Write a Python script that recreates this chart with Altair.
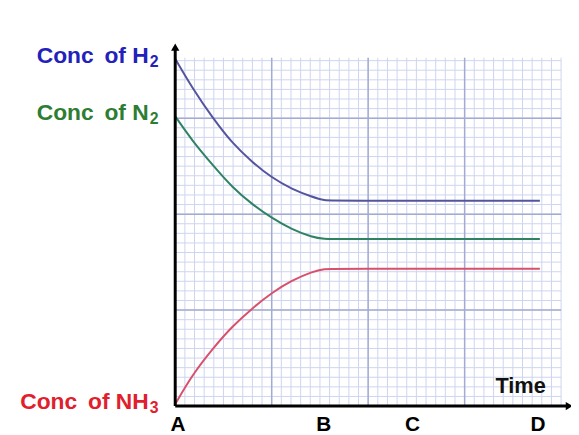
import altair as alt
import pandas as pd

# ---- data (x in grid cells of time, y in grid cells of concentration)
time_pts = [0, 1.8, 3.9, 5.9, 8.0, 10.0, 12.1, 14.2, 15.5, 16.5, 37.8]
conc_h2 = [36.2, 33.1, 30.0, 27.4, 25.4, 23.8, 22.6, 21.8, 21.4, 21.4, 21.4]
conc_n2 = [30.2, 27.6, 25.1, 22.8, 21.0, 19.6, 18.4, 17.6, 17.4, 17.4, 17.4]
conc_nh3 = [0.2, 3.3, 6.0, 8.3, 10.2, 11.8, 13.1, 14.0, 14.3, 14.3, 14.3]

series_names = ["H2", "N2", "NH3"]
label_main = ["Conc\u2009 of H", "Conc\u2009 of N", "Conc\u2009 of NH"]
label_sub = ["2", "2", "3"]
label_base_y = [35.75, 29.8, -0.35]
line_colors = ["#55559f", "#2f8363", "#d9506b"]
text_colors = ["#2222bb", "#2e7d32", "#e0202c"]

tick_labels = ["A", "B", "C", "D"]
tick_pos = [0.3, 15.4, 24.6, 37.6]

grid_x = list(range(0, 41))
grid_y = list(range(0, 37))
major = [10, 20, 30]

X_MAX, Y_MAX = 40, 36.3
LABEL_X = -2.75

xs = alt.Scale(domain=[0, X_MAX], nice=False, zero=False)
ys = alt.Scale(domain=[0, Y_MAX], nice=False, zero=False)

rows = []
for name, vals in zip(series_names, [conc_h2, conc_n2, conc_nh3]):
    for t, c in zip(time_pts, vals):
        rows.append({"series": name, "t": t, "c": c})
lines_df = pd.DataFrame(rows)

vgrid = pd.DataFrame({"x": grid_x, "y0": 0, "y1": Y_MAX})
hgrid = pd.DataFrame({"y": grid_y, "x0": 0, "x1": X_MAX})
vmaj = pd.DataFrame({"x": major, "y0": 0, "y1": Y_MAX})
hmaj = pd.DataFrame({"y": major, "x0": 0, "x1": X_MAX})

vg = alt.Chart(vgrid).mark_rule(color="#cdd4ef", strokeWidth=1).encode(
    x=alt.X("x:Q", scale=xs, axis=None), y=alt.Y("y0:Q", scale=ys, axis=None), y2="y1:Q")
hg = alt.Chart(hgrid).mark_rule(color="#cdd4ef", strokeWidth=1).encode(
    y=alt.Y("y:Q", scale=ys, axis=None), x=alt.X("x0:Q", scale=xs, axis=None), x2="x1:Q")
vm = alt.Chart(vmaj).mark_rule(color="#a3abd3", strokeWidth=1.5).encode(
    x=alt.X("x:Q", scale=xs, axis=None), y=alt.Y("y0:Q", scale=ys, axis=None), y2="y1:Q")
hm = alt.Chart(hmaj).mark_rule(color="#a3abd3", strokeWidth=1.5).encode(
    y=alt.Y("y:Q", scale=ys, axis=None), x=alt.X("x0:Q", scale=xs, axis=None), x2="x1:Q")

lines = alt.Chart(lines_df).mark_line(strokeWidth=2, interpolate="basis").encode(
    x=alt.X("t:Q", scale=xs, axis=None),
    y=alt.Y("c:Q", scale=ys, axis=None),
    color=alt.Color("series:N", scale=alt.Scale(domain=series_names, range=line_colors), legend=None),
)

# axes with arrows
axes_df = pd.DataFrame({"x0": [0, 0], "x1": [0, 40.7], "y0": [0, 0], "y1": [37.3, 0]})
axes = alt.Chart(axes_df).mark_rule(color="black", strokeWidth=3).encode(
    x=alt.X("x0:Q", scale=xs, axis=None), x2="x1:Q",
    y=alt.Y("y0:Q", scale=ys, axis=None), y2="y1:Q")
arrow_df = pd.DataFrame({"x": [0, 40.85], "y": [37.4, 0], "shape": ["triangle-up", "triangle-right"]})
arrows = alt.Chart(arrow_df).mark_point(filled=True, color="black", size=70, opacity=1).encode(
    x=alt.X("x:Q", scale=xs, axis=None), y=alt.Y("y:Q", scale=ys, axis=None),
    shape=alt.Shape("shape:N", scale=None))

lab_df = pd.DataFrame({"main": label_main, "sub": label_sub, "y": label_base_y,
                       "x": LABEL_X, "col": text_colors})
labels = alt.Chart(lab_df).mark_text(font="Liberation Sans", fontWeight="bold", fontSize=23,
                                     align="right", baseline="alphabetic").encode(
    x=alt.X("x:Q", scale=xs, axis=None), y=alt.Y("y:Q", scale=ys, axis=None),
    text="main:N", color=alt.Color("col:N", scale=None))
subs = alt.Chart(lab_df).mark_text(font="Liberation Sans", fontWeight="bold", fontSize=16,
                                   align="left", baseline="alphabetic", dx=1, dy=4).encode(
    x=alt.X("x:Q", scale=xs, axis=None), y=alt.Y("y:Q", scale=ys, axis=None),
    text="sub:N", color=alt.Color("col:N", scale=None))

tick_df = pd.DataFrame({"text": tick_labels, "x": tick_pos, "y": -1.95})
ticks = alt.Chart(tick_df).mark_text(font="Liberation Sans", fontWeight="bold", fontSize=21,
                                     align="center", baseline="middle", color="black").encode(
    x=alt.X("x:Q", scale=xs, axis=None), y=alt.Y("y:Q", scale=ys, axis=None), text="text:N")

time_df = pd.DataFrame({"text": ["Time"], "x": [35.8], "y": [2.06]})
time_lab = alt.Chart(time_df).mark_text(font="Liberation Sans", fontWeight="bold", fontSize=22,
                                        align="center", baseline="middle", color="#111111").encode(
    x=alt.X("x:Q", scale=xs, axis=None), y=alt.Y("y:Q", scale=ys, axis=None), text="text:N")

chart = alt.layer(vg, hg, vm, hm, lines, axes, arrows, labels, subs, ticks, time_lab).properties(
    width=390, height=352,
    padding={"left": 169, "top": 48, "right": 10, "bottom": 27},
    autosize="none",
    background="white",
).configure_view(stroke=None)

chart.save("out.html", embed_options={"renderer": "svg", "actions": False})
